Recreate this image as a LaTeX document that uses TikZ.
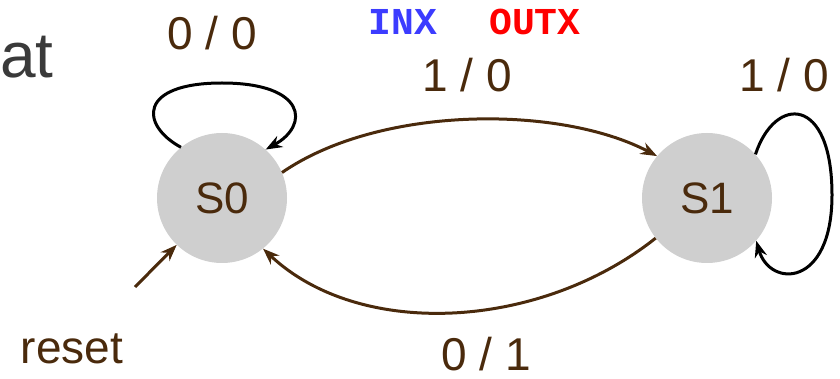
\documentclass[tikz,border=0pt]{standalone}
\usepackage{fontspec}
\setmainfont{Liberation Sans}
\newfontfamily\codefont{Liberation Mono}
\usepackage{xcolor}
\usepackage{tikz}
\usetikzlibrary{arrows.meta}
\definecolor{arcbrown}{HTML}{4A2A0C}
\definecolor{stategray}{HTML}{CFCFCF}
\definecolor{titlegray}{HTML}{3A3A3A}
\definecolor{inblue}{HTML}{3C3CFF}
\definecolor{outred}{HTML}{FF0000}

\begin{document}
\begin{tikzpicture}[x=1pt,y=-1pt,>=Stealth,
state/.style={circle,fill=stategray,inner sep=0pt,minimum size=130pt,text=arcbrown,font=\fontsize{44}{48}\selectfont},
lbl/.style={anchor=base,inner sep=0pt,text=arcbrown,font=\fontsize{46}{50}\selectfont},
code/.style={anchor=base,inner sep=0pt,font=\codefont\bfseries\fontsize{38}{40}\selectfont}]
\useasboundingbox(0,0)rectangle(840,379);
\node[anchor=base west,inner sep=0pt,text=titlegray,font=\fontsize{64}{70}\selectfont](title)at(0,78){at};
\node[code,text=inblue](inx)at(403,35){INX};
\node[code,text=outred](outx)at(535,35){OUTX};
\node[state](S0)at(222,198){S0};
\node[state](S1)at(707,198){S1};
\node[lbl](l00)at(212,50){0 / 0};
\node[lbl](l10a)at(467,92){1 / 0};
\node[lbl](l10b)at(784,92){1 / 0};
\node[lbl](l01)at(486,370){0 / 1};
\node[lbl](rst)at(72,363){reset};
\coordinate(rstin)at(135,287);
\draw[->,line width=3pt,black](S0.129)..controls(140,125)and(138,83)..(222,83)..controls(306,83)and(310,125)..(S0.48);
\draw[->,line width=3pt,black](S1.42)..controls(775,95)and(832,95)..(832,195)..controls(832,288)and(770,288)..(S1.-41);
\draw[->,line width=3pt,arcbrown](S0.23)..controls(380,105)and(560,105)..(S1.140);
\draw[->,line width=3pt,arcbrown](S1.218)..controls(540,330)and(360,340)..(S0.309);
\draw[->,line width=3pt,arcbrown](rstin)--(S0.226);
\end{tikzpicture}
\end{document}
